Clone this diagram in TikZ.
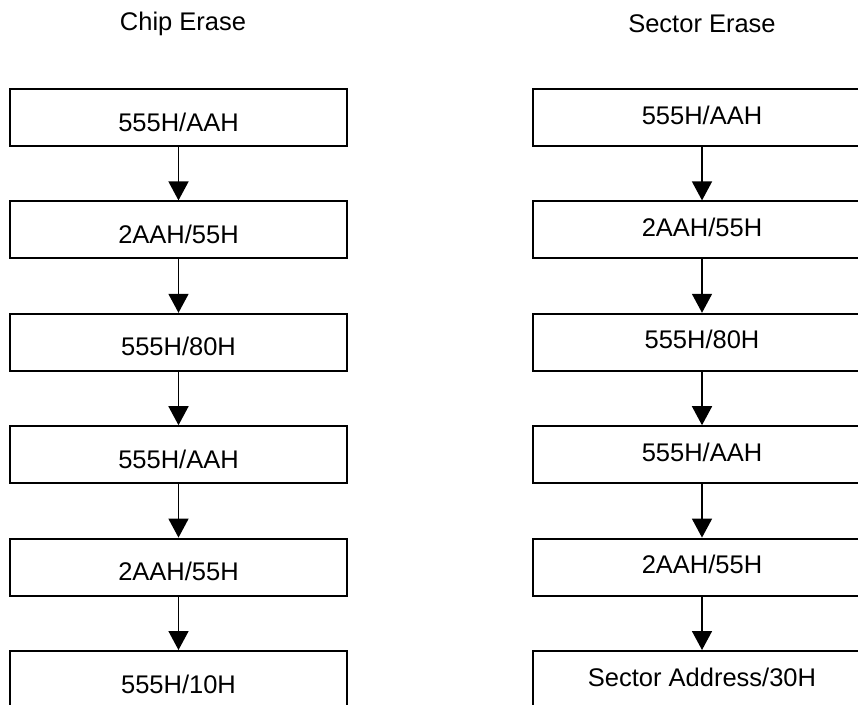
\documentclass[tikz,border=0pt]{standalone}
\usepackage{fontspec}
\setmainfont{Liberation Sans}
\usepackage{tikz}
\usetikzlibrary{arrows.meta, positioning}
\tikzstyle{cmd} = [rectangle, draw, line width=2pt, minimum width=337pt, minimum height=57pt, inner sep=0pt, text height=42pt, text depth=15pt, font=\fontsize{25.5}{30}\selectfont]
\tikzstyle{seccmd} = [cmd, minimum width=338pt, text height=35pt, text depth=22pt]
\tikzstyle{title} = [font=\fontsize{25.5}{30}\selectfont]
\tikzstyle{arrow} = [line width=1.6pt, -{Triangle[width=20pt,length=19pt]}]

\begin{document}
\begin{tikzpicture}[x=1pt, y=-1pt, node distance=53.4pt]
\useasboundingbox (0,0) rectangle (858,704);

% Titles
\node[title] (chiptitle) at (183,24) {Chip Erase};
\node[title] (sectitle) at (702,24) {Sector Erase};

% Chip erase sequence
\node[cmd] (ce1) at (178.5,117.5) {555H/AAH};
\node[cmd, below=of ce1] (ce2) {2AAH/55H};
\node[cmd, below=of ce2] (ce3) {555H/80H};
\node[cmd, below=of ce3] (ce4) {555H/AAH};
\node[cmd, below=of ce4] (ce5) {2AAH/55H};
\node[cmd, below=of ce5] (ce6) {555H/10H};

% Sector erase sequence
\node[seccmd] (se1) at (702,117.5) {555H/AAH};
\node[seccmd, below=of se1] (se2) {2AAH/55H};
\node[seccmd, below=of se2] (se3) {555H/80H};
\node[seccmd, below=of se3] (se4) {555H/AAH};
\node[seccmd, below=of se4] (se5) {2AAH/55H};
\node[seccmd, below=of se5] (se6) {Sector Address/30H};

% Arrows
\draw[arrow] (ce1) -- (ce2);
\draw[arrow] (ce2) -- (ce3);
\draw[arrow] (ce3) -- (ce4);
\draw[arrow] (ce4) -- (ce5);
\draw[arrow] (ce5) -- (ce6);

\draw[arrow] (se1) -- (se2);
\draw[arrow] (se2) -- (se3);
\draw[arrow] (se3) -- (se4);
\draw[arrow] (se4) -- (se5);
\draw[arrow] (se5) -- (se6);

\end{tikzpicture}
\end{document}
